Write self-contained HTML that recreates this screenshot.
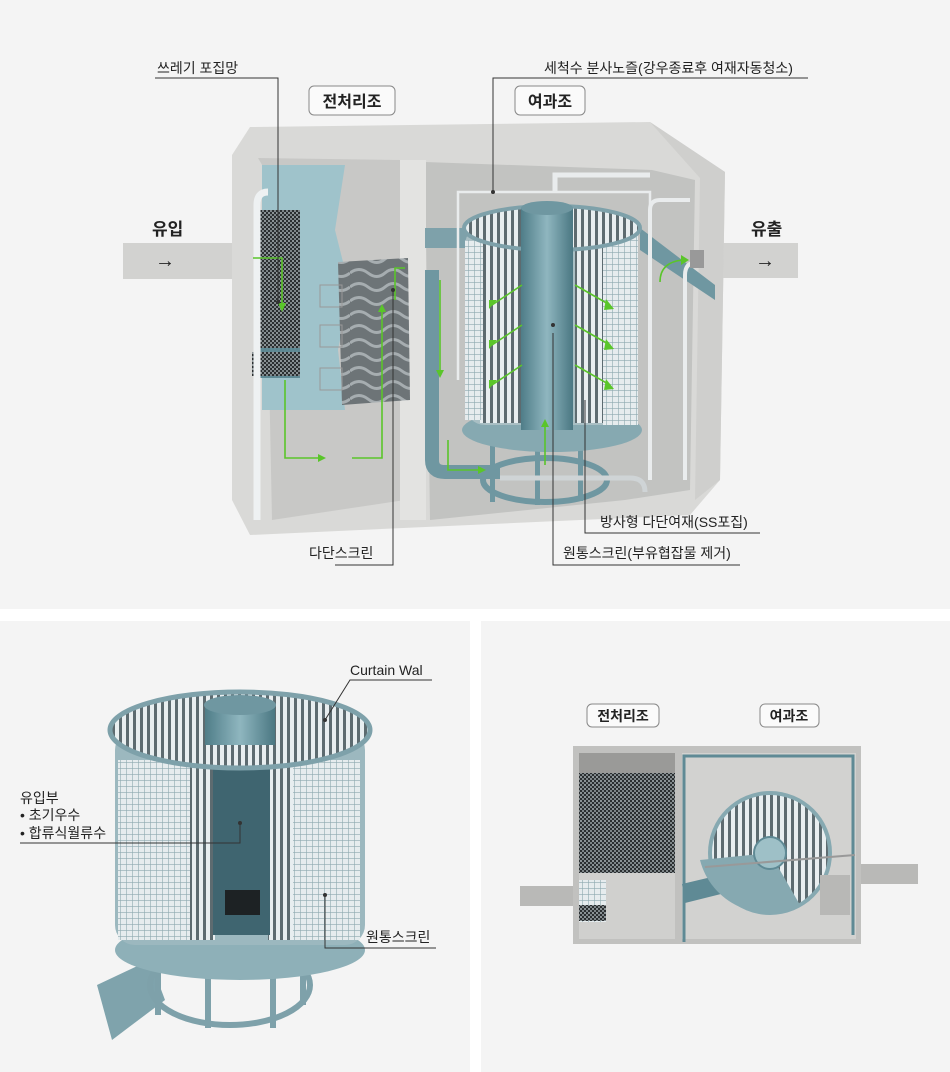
<!DOCTYPE html>
<html><head><meta charset="utf-8"><style>
html,body{margin:0;padding:0;background:#fff;}
svg{display:block;}
text{font-family:"Liberation Sans","Noto Sans CJK KR",sans-serif;fill:#222;}
</style></head><body>
<svg width="950" height="1072" viewBox="0 0 950 1072" xmlns="http://www.w3.org/2000/svg">
<defs>
<pattern id="stripes" width="7" height="10" patternUnits="userSpaceOnUse"><rect width="7" height="10" fill="#e8eef0"/><rect width="3" height="10" fill="#5d6b70"/></pattern>
<pattern id="grid" width="6" height="6" patternUnits="userSpaceOnUse"><rect width="6" height="6" fill="#e6ecee"/><path d="M0 0H6M0 0V6" stroke="#8ea9b0" stroke-width="1.2"/></pattern>
<pattern id="dark" width="4" height="4" patternUnits="userSpaceOnUse"><rect width="4" height="4" fill="#2b2f31"/><rect width="2" height="2" fill="#8b9396"/><rect x="2" y="2" width="2" height="2" fill="#7d8588"/></pattern>
<pattern id="wave" width="70" height="14" patternUnits="userSpaceOnUse"><rect width="70" height="14" fill="#6d7477"/><path d="M0 7 Q9 0 18 7 T35 7 T52 7 T70 7" stroke="#a6adb0" stroke-width="3" fill="none"/></pattern>
<linearGradient id="tube" x1="0" x2="1"><stop offset="0" stop-color="#4f7d88"/><stop offset=".5" stop-color="#8fb6bf"/><stop offset="1" stop-color="#4a7782"/></linearGradient>
</defs>
<rect x="0" y="0" width="950" height="609" fill="#f4f4f4"/>
<rect x="0" y="621" width="470" height="451" fill="#f4f4f4"/>
<rect x="481" y="621" width="469" height="451" fill="#f4f4f4"/>

<rect x="123" y="243" width="120" height="36" fill="#d2d2d0"/>
<rect x="715" y="243" width="83" height="35" fill="#d2d2d0"/>
<polygon points="250,127 650,122 725,172 720,480 690,515 250,535 232,500 232,155" fill="#d9d9d7"/>
<polygon points="650,122 725,172 720,480 695,500 700,178" fill="#cfcfcd"/>
<polygon points="258,158 400,160 405,500 272,520 265,170" fill="#c8c8c6"/>
<polygon points="425,162 652,170 695,180 690,490 625,500 430,520" fill="#c2c3c1"/>
<rect x="400" y="160" width="26" height="360" fill="#e3e3e1"/>
<polygon points="262,165 345,165 335,230 350,290 338,350 345,410 262,410" fill="#9fc3cb"/>
<rect x="256" y="210" width="44" height="165" fill="url(#dark)"/>
<rect x="255" y="348" width="45" height="30" fill="#5e8994"/>
<rect x="252" y="352" width="48" height="24" fill="url(#dark)"/>
<path d="M257 520 V205 Q257 192 268 192" stroke="#eef1f2" stroke-width="7" fill="none"/>
<polygon points="338,262 408,258 410,400 342,405" fill="url(#wave)"/>
<rect x="320" y="285" width="22" height="22" fill="none" stroke="#999" />
<rect x="320" y="325" width="22" height="22" fill="none" stroke="#999" />
<rect x="320" y="368" width="22" height="22" fill="none" stroke="#999" />
<polygon points="425,228 470,228 470,248 425,248" fill="#7ea1aa"/>
<polygon points="640,228 715,285 715,300 640,250" fill="#6f97a1"/>
<path d="M432 270 V460 Q432 472 445 472 H500" stroke="#6f97a1" stroke-width="14" fill="none"/>
<path d="M458 380 V192 H650 V380" stroke="#e9eced" stroke-width="2.5" fill="none"/>
<path d="M555 192 V175 H650" stroke="#e9eced" stroke-width="5" fill="none"/>
<path d="M650 480 V210 Q650 200 660 200 H690" stroke="#e9eced" stroke-width="4" fill="none"/>
<path d="M685 480 V275 Q685 262 698 262" stroke="#e9eced" stroke-width="4" fill="none"/>
<rect x="690" y="250" width="14" height="18" fill="#999"/>
<ellipse cx="545" cy="480" rx="62" ry="22" fill="none" stroke="#6f97a1" stroke-width="6"/>
<rect x="490" y="432" width="5" height="70" fill="#6f97a1"/><rect x="535" y="440" width="5" height="65" fill="#6f97a1"/><rect x="578" y="436" width="5" height="65" fill="#6f97a1"/>
<path d="M500 478 H630 Q645 478 645 492" stroke="#cfd4d6" stroke-width="5" fill="none"/>
<ellipse cx="552" cy="430" rx="90" ry="22" fill="#86a9b1"/>
<rect x="465" y="225" width="170" height="200" rx="20" fill="#a9bfc4"/>
<rect x="480" y="228" width="45" height="195" fill="url(#stripes)"/>
<rect x="465" y="240" width="18" height="180" fill="url(#grid)"/>
<rect x="575" y="228" width="28" height="195" fill="url(#stripes)"/>
<rect x="603" y="235" width="35" height="190" fill="url(#grid)"/>
<ellipse cx="552" cy="228" rx="88" ry="22" fill="url(#stripes)" stroke="#7ea1aa" stroke-width="4"/>
<rect x="521" y="208" width="52" height="222" fill="url(#tube)"/>
<ellipse cx="547" cy="208" rx="26" ry="7" fill="#6f97a1"/>
<g stroke="#5ac52a" stroke-width="1.6" fill="none">
<path d="M253 258 H282 V305"/><path d="M285 380 V458 H320"/><path d="M352 458 H382 V310"/><path d="M395 300 V268 H405"/><path d="M440 280 V372"/>
<path d="M448 440 V470 H480"/><path d="M545 465 V425"/>
<path d="M522 285 L492 305"/><path d="M522 325 L492 345"/><path d="M522 365 L492 385"/>
<path d="M575 285 L610 305"/><path d="M575 325 L610 345"/><path d="M575 365 L610 385"/>
<path d="M660 282 Q660 262 683 260"/>
</g>
<g fill="#5ac52a">
<polygon points="278,303 286,303 282,312"/><polygon points="318,454 326,458 318,462"/><polygon points="378,312 386,312 382,304"/><polygon points="436,370 444,370 440,378"/><polygon points="478,466 486,470 478,474"/><polygon points="541,427 549,427 545,419"/>
<polygon points="489,300 497,300 489,309"/><polygon points="489,340 497,340 489,349"/><polygon points="489,380 497,380 489,389"/>
<polygon points="606,299 614,309 604,310"/><polygon points="606,339 614,349 604,350"/><polygon points="606,379 614,389 604,390"/>
<polygon points="681,255 689,260 681,265"/>
</g>
<g stroke="#333" stroke-width="1" fill="none">
<path d="M155 78 H278 V302"/>
<path d="M808 78 H493 V192"/>
<path d="M335 565 H393 V290"/>
<path d="M553 333 V565 H740"/>
<path d="M585 400 V533 H760"/>
</g>
<g fill="#333"><circle cx="278" cy="302" r="2"/><circle cx="493" cy="192" r="2"/><circle cx="393" cy="290" r="2"/><circle cx="553" cy="325" r="2"/></g>
<text x="157" y="73" font-size="14">쓰레기 포집망</text>
<text x="544" y="73" font-size="14">세척수 분사노즐(강우종료후 여재자동청소)</text>
<text x="309" y="558" font-size="14">다단스크린</text>
<text x="600" y="527" font-size="14">방사형 다단여재(SS포집)</text>
<text x="563" y="558" font-size="14">원통스크린(부유협잡물 제거)</text>
<rect x="309" y="86" width="86" height="29" rx="5" fill="#fafafa" stroke="#888"/>
<text x="352" y="107" font-size="16" font-weight="bold" text-anchor="middle">전처리조</text>
<rect x="515" y="86" width="70" height="29" rx="5" fill="#fafafa" stroke="#888"/>
<text x="550" y="107" font-size="16" font-weight="bold" text-anchor="middle">여과조</text>
<text x="152" y="235" font-size="17" font-weight="bold">유입</text>
<text x="155" y="267" font-size="20">→</text>
<text x="751" y="235" font-size="17" font-weight="bold">유출</text>
<text x="755" y="267" font-size="20">→</text>

<polygon points="97,985 150,960 165,1000 112,1040" fill="#7fa3ac"/>
<ellipse cx="230" cy="985" rx="80" ry="40" fill="none" stroke="#7ea1aa" stroke-width="6"/>
<g fill="#7ea1aa"><rect x="155" y="950" width="6" height="65"/><rect x="205" y="958" width="6" height="70"/><rect x="270" y="958" width="6" height="70"/><rect x="300" y="950" width="6" height="55"/></g>
<ellipse cx="240" cy="950" rx="125" ry="30" fill="#8eb0b8"/>
<rect x="115" y="730" width="250" height="215" rx="20" fill="#9cb8bf"/>
<rect x="118" y="760" width="80" height="180" fill="url(#grid)"/>
<rect x="290" y="760" width="70" height="180" fill="url(#grid)"/>
<rect x="190" y="745" width="25" height="195" fill="url(#stripes)"/>
<rect x="268" y="745" width="25" height="195" fill="url(#stripes)"/>
<rect x="213" y="745" width="57" height="190" fill="#3f6570"/>
<rect x="225" y="890" width="35" height="25" fill="#1d2224"/>
<ellipse cx="240" cy="730" rx="130" ry="38" fill="url(#stripes)" stroke="#7ea1aa" stroke-width="5"/>
<rect x="205" y="705" width="70" height="40" fill="url(#tube)"/>
<ellipse cx="240" cy="705" rx="36" ry="10" fill="#6f97a1"/>
<g stroke="#333" stroke-width="1" fill="none"><path d="M432 680 H350 L325 720"/><path d="M20 843 H240 V823"/><path d="M436 948 H325 V895"/></g>
<g fill="#333"><circle cx="240" cy="823" r="2"/><circle cx="325" cy="895" r="2"/><circle cx="325" cy="720" r="2"/></g>
<text x="350" y="675" font-size="14">Curtain Wal</text>
<text x="20" y="803" font-size="14">유입부</text>
<text x="20" y="820" font-size="14">• 초기우수</text>
<text x="20" y="838" font-size="14">• 합류식월류수</text>
<text x="366" y="942" font-size="14">원통스크린</text>

<rect x="520" y="886" width="55" height="20" fill="#b9b9b7"/>
<rect x="860" y="864" width="58" height="20" fill="#b9b9b7"/>
<rect x="573" y="746" width="288" height="198" fill="#c1c1bf"/>
<rect x="579" y="753" width="96" height="186" fill="#d0d0ce"/>
<rect x="579" y="753" width="96" height="20" fill="#9a9a98"/>
<rect x="579" y="773" width="96" height="100" fill="url(#dark)"/>
<rect x="579" y="880" width="27" height="42" fill="url(#grid)"/>
<rect x="579" y="905" width="27" height="16" fill="url(#dark)"/>
<rect x="682" y="753" width="174" height="186" fill="#d2d2d0"/>
<path d="M684 942 V756 H853 V935" stroke="#5f8a95" stroke-width="3" fill="none"/>
<polygon points="682,884 720,875 725,893 685,903" fill="#5f8a95"/>
<circle cx="770" cy="853" r="62" fill="#86a9b1"/>
<circle cx="770" cy="853" r="58" fill="url(#stripes)"/>
<path d="M770 853 L700 860 A70 70 0 0 0 800 905 Z" fill="#86a9b1"/>
<circle cx="770" cy="853" r="16" fill="#9ec0c7" stroke="#5f8a95" stroke-width="2"/>
<line x1="705" y1="867" x2="855" y2="855" stroke="#999" stroke-width="2"/>
<rect x="820" y="875" width="30" height="40" fill="#b8b8b6"/>
<rect x="587" y="704" width="72" height="23" rx="5" fill="#fafafa" stroke="#888"/>
<text x="623" y="721" font-size="14" font-weight="bold" text-anchor="middle">전처리조</text>
<rect x="760" y="704" width="59" height="23" rx="5" fill="#fafafa" stroke="#888"/>
<text x="789" y="721" font-size="14" font-weight="bold" text-anchor="middle">여과조</text>
</svg>
</body></html>
